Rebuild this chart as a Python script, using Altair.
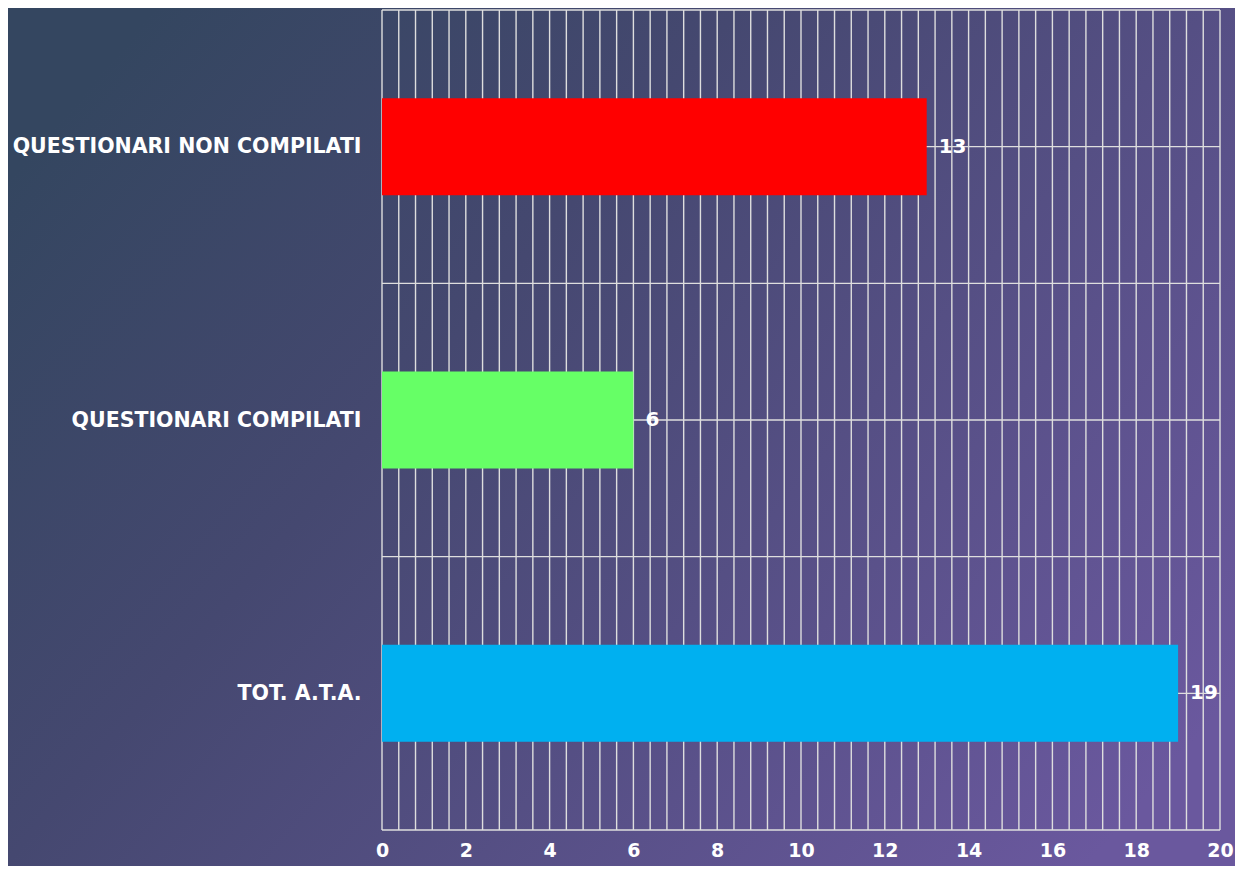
import altair as alt
import pandas as pd

# ---- data ----
categories = ["QUESTIONARI NON COMPILATI", "QUESTIONARI COMPILATI", "TOT. A.T.A."]
values = [13, 6, 19]
bar_colors = ["#FF0000", "#66FF66", "#00B0F0"]
x_grid_step = 0.4
x_max = 20
x_label_step = 2

n = len(categories)
slots = [n - i - 0.5 for i in range(n)]  # category slot centres (top first)

df = pd.DataFrame({"cat": categories, "value": values, "color": bar_colors, "slot": slots})

x_grid = [round(i * x_grid_step, 4) for i in range(int(round(x_max / x_grid_step)) + 1)]
y_grid = [i * 0.5 for i in range(2 * n + 1)]

W, H = 838, 820
PAD = {"left": 374, "top": 2, "right": 15, "bottom": 36}
FONT = "DejaVu Sans"
GRID = "#dedede"

y_label_expr = " : ".join(
    f"abs(datum.value - {s}) < 0.01 ? '{c}'" for s, c in zip(slots, categories)
) + " : ''"
x_label_expr = f"abs(datum.value / {x_label_step} - round(datum.value / {x_label_step})) < 0.001 ? format(datum.value, 'd') : ''"

x_scale = alt.Scale(domain=[0, x_max], nice=False, zero=True, padding=0)
y_scale = alt.Scale(domain=[0, n], nice=False, padding=0)

x_axis = alt.Axis(values=x_grid, labelExpr=x_label_expr, grid=False, domain=False,
                  ticks=False, labelColor="white", labelFont=FONT, labelFontSize=19,
                  labelFontWeight="bold", labelPadding=11, labelOverlap=False,
                  labelFlush=False, zindex=1, title=None)
y_axis = alt.Axis(values=slots, labelExpr=y_label_expr, grid=False, domain=False,
                  ticks=False, labelColor="white", labelFont=FONT, labelFontSize=20.5,
                  labelFontWeight="bold", labelPadding=21, labelLimit=600, zindex=1,
                  title=None)

bg = alt.Chart(pd.DataFrame({"a": [0]})).mark_rect(
    fill=alt.LinearGradient(
        gradient="linear",
        stops=[alt.GradientStop(color="#344660", offset=0),
               alt.GradientStop(color="#454870", offset=0.35),
               alt.GradientStop(color="#6a589e", offset=1)],
        x1=0, x2=1, y1=0.2, y2=0.8,
    )
).encode(
    x=alt.value(-PAD["left"]), x2=alt.value(W + PAD["right"]),
    y=alt.value(-PAD["top"]), y2=alt.value(H + PAD["bottom"]),
)

vgrid = alt.Chart(pd.DataFrame({"g": x_grid})).mark_rule(
    color=GRID, strokeWidth=1.4
).encode(x=alt.X("g:Q", scale=x_scale, axis=x_axis))

hgrid = alt.Chart(pd.DataFrame({"g": y_grid})).mark_rule(
    color=GRID, strokeWidth=1.4
).encode(y=alt.Y("g:Q", scale=y_scale, axis=y_axis))

bars = alt.Chart(df).mark_bar(orient="horizontal", size=97).encode(
    x=alt.X("value:Q", scale=x_scale, axis=x_axis),
    y=alt.Y("slot:Q", scale=y_scale, axis=y_axis),
    color=alt.Color("color:N", scale=None),
)

texts = alt.Chart(df).mark_text(
    align="left", baseline="middle", dx=12, color="white",
    font=FONT, fontSize=20, fontWeight="bold"
).encode(
    x=alt.X("value:Q", scale=x_scale, axis=x_axis),
    y=alt.Y("slot:Q", scale=y_scale, axis=y_axis),
    text=alt.Text("value:Q"),
)

chart = alt.layer(bg, vgrid, hgrid, bars, texts).properties(
    width=W, height=H,
    autosize=alt.AutoSizeParams(type="none"),
    padding=PAD,
).configure_view(stroke=None)

chart.save("out.html", embed_options={"renderer": "svg", "actions": False})
